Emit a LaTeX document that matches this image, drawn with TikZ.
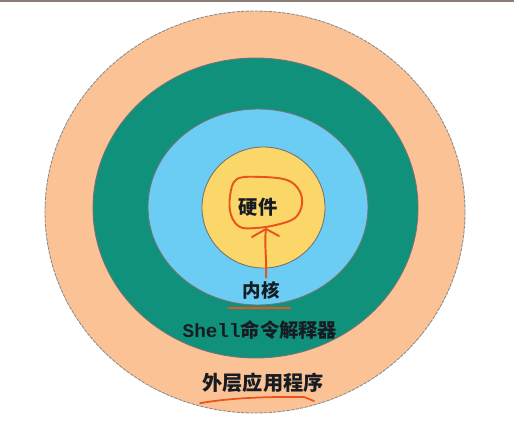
\documentclass[tikz,border=0pt]{standalone}
\usepackage{xcolor}
\usepackage{fontspec}
\usepackage{tikz}
\newfontfamily\cjk{Noto Sans CJK SC}
\newfontfamily\monofont{Liberation Mono}

\definecolor{peach}{HTML}{FBC395}
\definecolor{shellgreen}{HTML}{10917B}
\definecolor{kernelblue}{HTML}{6CCDF4}
\definecolor{hwyellow}{HTML}{FBD76A}
\definecolor{penred}{HTML}{E8541C}
\definecolor{inkdark}{HTML}{161C22}
\definecolor{frame}{HTML}{8C7C76}

\begin{document}
\begin{tikzpicture}[x=0.02cm,y=-0.02cm]
        \tikzset{ring/.style={draw=black!55,line width=0.5pt}};
        \tikzset{label/.style={inner sep=0pt,text=inkdark,font=\cjk\bfseries}};
        \tikzset{pen/.style={draw=penred,line width=1.1pt,line cap=round,line join=round}};

        \useasboundingbox (0,0) rectangle (514,429);
        \fill [white] (0,0) rectangle (514,429);
        \fill [frame] (0,0) rectangle (514,2.5);

        % rings, outside in
        \filldraw [ring,fill=peach,draw=black!45,dash pattern=on 2pt off 0.6pt] (255,212) ellipse [x radius=210,y radius=201];
        \filldraw [ring,fill=shellgreen] (255.5,208) ellipse [x radius=162.5,y radius=150];
        \filldraw [ring,fill=kernelblue] (258,207) ellipse [x radius=110,y radius=98];
        \filldraw [ring,fill=hwyellow] (263.5,207.5) ellipse [x radius=61.5,y radius=60.5];

        \node [label,font=\cjk\bfseries\fontsize{11pt}{13pt}\selectfont] (hardware) at (258,207) {硬件};
        \node [label,font=\cjk\bfseries\fontsize{10.5pt}{12pt}\selectfont] (kernel) at (261,290) {内核};
        \node [label,font=\cjk\bfseries\fontsize{11pt}{13pt}\selectfont] (shell) at (260,330) {{\monofont\bfseries Shell}命令解释器};
        \node [label,font=\cjk\bfseries\fontsize{11.5pt}{13pt}\selectfont] (apps) at (263,383) {外层应用程序};

        % hand-drawn marks
        \draw [pen] plot [smooth cycle,tension=0.6] coordinates {(237,179) (262,177) (287,180) (299,190) (302,204) (295,218) (276,225) (256,228) (240,227) (231,215) (230,196)};
        \coordinate (tip) at (266,229);
        \draw [pen] (kernel.north) ++(5,-3) .. controls (267,258) and (264,245) .. (tip);
        \draw [pen] (252,237) -- (tip) -- (279,236);
        \draw [pen,line width=1pt] (kernel.south west) ++(-14,9) -- ++(62,0);
        \draw [pen,line width=1pt] (apps.south west) ++(-2,10) .. controls (240,396) and (290,397) .. (304,397) -- (314,401);
    \end{tikzpicture}
\end{document}
